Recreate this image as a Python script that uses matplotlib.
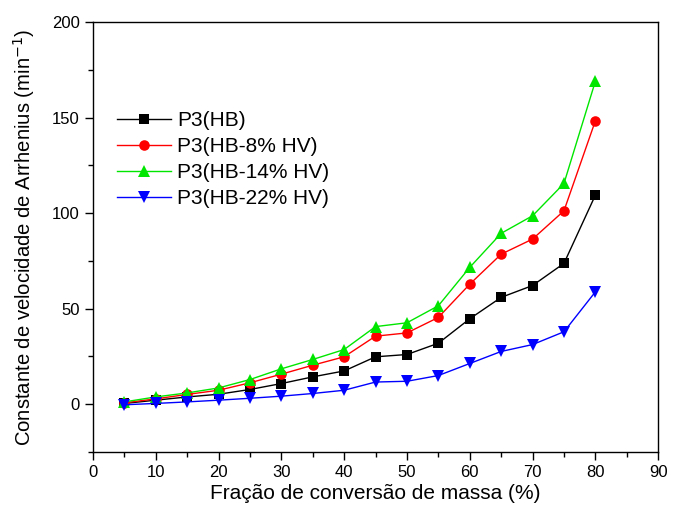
import matplotlib
matplotlib.use("Agg")
import matplotlib.pyplot as plt
from matplotlib.ticker import MultipleLocator

plt.rcParams['font.family'] = ['Liberation Sans', 'DejaVu Sans']

conversion = [5, 10, 15, 20, 25, 30, 35, 40, 45, 50, 55, 60, 65, 70, 75, 80]
k_hb = [0.4, 2.1, 3.8, 5.2, 7.7, 10.8, 14.3, 17.4, 24.8, 26.0, 31.9, 44.7, 55.9, 62.1, 73.7, 109.4]
k_hb8 = [0.7, 2.8, 5.1, 7.3, 11.2, 15.7, 20.4, 24.8, 35.6, 37.3, 45.4, 62.8, 78.5, 86.4, 101.2, 148.3]
k_hb14 = [1.2, 3.8, 5.9, 8.5, 12.9, 18.5, 23.4, 28.6, 40.6, 42.6, 51.5, 71.6, 89.4, 98.6, 115.5, 169.0]
k_hb22 = [-0.3, 0.4, 1.2, 2.1, 3.1, 4.2, 5.6, 7.3, 11.6, 12.0, 15.0, 21.3, 27.6, 31.2, 37.9, 58.8]

labels = ['P3(HB)', 'P3(HB-8% HV)', 'P3(HB-14% HV)', 'P3(HB-22% HV)']
colors = ['#000000', '#ff0000', '#00e600', '#0000ff']
markers = ['s', 'o', '^', 'v']
sizes = [6.8, 7.6, 8.2, 8.2]

fig = plt.figure(figsize=(6.73, 5.11), dpi=100)
ax = fig.add_axes([0.138, 0.1155, 0.840, 0.8415])

for ys, lab, c, m, s in zip([k_hb, k_hb8, k_hb14, k_hb22], labels, colors, markers, sizes):
    ax.plot(conversion, ys, color=c, marker=m, markersize=s, linewidth=1.0,
            markeredgewidth=0, label=lab)

ax.set_xlim(0, 90)
ax.set_ylim(-25, 200)
ax.xaxis.set_major_locator(MultipleLocator(10))
ax.xaxis.set_minor_locator(MultipleLocator(5))
ax.yaxis.set_major_locator(MultipleLocator(50))
ax.yaxis.set_minor_locator(MultipleLocator(25))
ax.tick_params(which='major', direction='out', length=6, width=1, labelsize=12, colors='black')
ax.tick_params(which='minor', direction='out', length=3.5, width=1)
for sp in ax.spines.values():
    sp.set_linewidth(1.0)

ax.set_xlabel('Fração de conversão de massa (%)', fontsize=15, labelpad=3)
ax.set_ylabel('Constante de velocidade de Arrhenius (min$^{-1}$)', fontsize=14.6, labelpad=11)

ax.legend(loc='upper left', bbox_to_anchor=(0.02, 0.822), frameon=False, fontsize=15,
          handlelength=2.6, handletextpad=0.3, labelspacing=0.34, borderaxespad=0.2)

fig.savefig('out.png', dpi=100)
